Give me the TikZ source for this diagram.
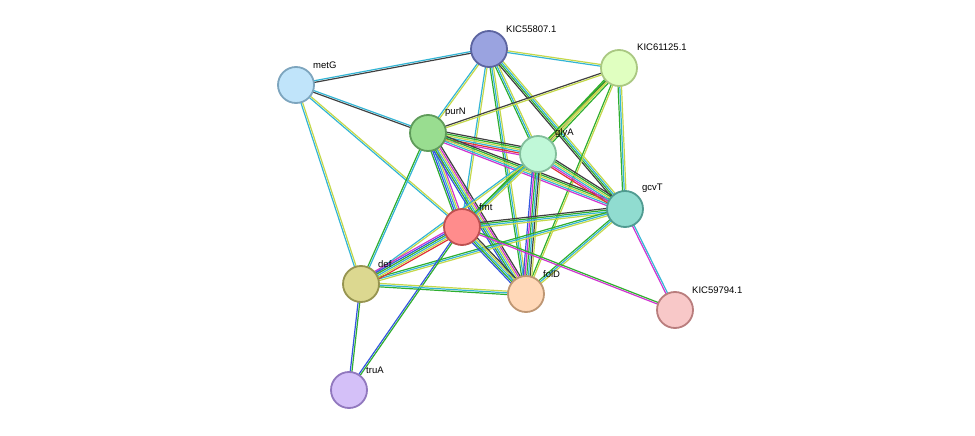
\documentclass[tikz,border=0pt]{standalone}
\usepackage{fontspec}
\setmainfont{Liberation Sans}
\usetikzlibrary{calc}
\pgfdeclarelayer{bg}
\pgfsetlayers{bg,main}
\definecolor{cK}{HTML}{404040}
\definecolor{cC}{HTML}{33B5D5}
\definecolor{cM}{HTML}{D033D0}
\definecolor{cY}{HTML}{C4D84A}
\definecolor{cG}{HTML}{2FAE2F}
\definecolor{cB}{HTML}{3355E0}
\definecolor{cR}{HTML}{E03333}
% one coloured line per evidence channel, side by side
\newcommand\lnk[3]{%
  \foreach \c [count=\i] in {#3} {\xdef\nn{\i}}
  \foreach \c [count=\i] in {#3} {
    \pgfmathsetmacro\off{(\i-(\nn+1)/2)*1.7}
    \draw[\c,line width=1.2pt] ($(#1)!\off pt!90:(#2)$) -- ($(#2)!\off pt!-90:(#1)$);
  }}
\begin{document}
\begin{tikzpicture}
    [x=1pt,y=-1pt,
    prot/.style={circle,draw,line width=1.8pt,minimum size=36pt,inner sep=0pt},
    lab/.style={font=\fontsize{9.5}{11}\selectfont,anchor=south west,inner sep=1pt}
    ]
    \useasboundingbox (0,0) rectangle (975,436);
    \node (k55) at (489,49) [prot,fill={rgb,255:red,154;green,163;blue,224},draw={rgb,255:red,92;green,100;blue,160}] {};
    \node (k61) at (619,68) [prot,fill={rgb,255:red,224;green,255;blue,192},draw={rgb,255:red,170;green,200;blue,130}] {};
    \node (metG) at (296,85) [prot,fill={rgb,255:red,192;green,228;blue,250},draw={rgb,255:red,125;green,165;blue,190}] {};
    \node (purN) at (428,133) [prot,fill={rgb,255:red,153;green,221;blue,144},draw={rgb,255:red,95;green,155;blue,90}] {};
    \node (glyA) at (538,154) [prot,fill={rgb,255:red,192;green,248;blue,216},draw={rgb,255:red,130;green,190;blue,155}] {};
    \node (gcvT) at (625,209) [prot,fill={rgb,255:red,144;green,220;blue,208},draw={rgb,255:red,80;green,155;blue,145}] {};
    \node (fmt) at (462,227) [prot,fill={rgb,255:red,255;green,140;blue,140},draw={rgb,255:red,190;green,80;blue,80}] {};
    \node (def) at (361,284) [prot,fill={rgb,255:red,220;green,216;blue,144},draw={rgb,255:red,150;green,148;blue,80}] {};
    \node (folD) at (526,294) [prot,fill={rgb,255:red,255;green,216;blue,184},draw={rgb,255:red,190;green,150;blue,115}] {};
    \node (k59) at (675,310) [prot,fill={rgb,255:red,248;green,200;blue,200},draw={rgb,255:red,185;green,125;blue,125}] {};
    \node (truA) at (349,390) [prot,fill={rgb,255:red,212;green,192;blue,248},draw={rgb,255:red,145;green,120;blue,190}] {};
    \node[lab] (lk55) at (505,34) {KIC55807.1};
    \node[lab] (lk61) at (636,52) {KIC61125.1};
    \node[lab] (lmetG) at (312,70) {metG};
    \node[lab] (lpurN) at (444,118) {purN};
    \node[lab] (lglyA) at (554,139) {glyA};
    \node[lab] (lgcvT) at (641,194) {gcvT};
    \node[lab] (lfmt) at (478,212) {fmt};
    \node[lab] (ldef) at (377,269) {def};
    \node[lab] (lfolD) at (542,279) {folD};
    \node[lab] (lk59) at (691,295) {KIC59794.1};
    \node[lab] (ltruA) at (365,375) {truA};
    \begin{pgfonlayer}{bg}
    \lnk{metG}{k55}{cK,cC}
    \lnk{metG}{purN}{cK,cC}
    \lnk{metG}{fmt}{cC,cY}
    \lnk{metG}{def}{cC,cY}
    \lnk{k55}{k61}{cC,cY}
    \lnk{k55}{purN}{cC,cY}
    \lnk{k55}{glyA}{cG,cC,cY}
    \lnk{k55}{gcvT}{cK,cG,cC,cY}
    \lnk{k55}{fmt}{cC,cY}
    \lnk{k55}{folD}{cG,cC,cY}
    \lnk{k61}{purN}{cK,cY}
    \lnk{k61}{glyA}{cG,cK,cY,cG}
    \lnk{k61}{gcvT}{cG,cC,cY}
    \lnk{k61}{fmt}{cG,cY}
    \lnk{k61}{folD}{cG,cY}
    \lnk{purN}{glyA}{cM,cR,cC,cY,cG,cK}
    \lnk{purN}{gcvT}{cM,cC,cY,cG,cK}
    \lnk{purN}{fmt}{cG,cB,cC,cY,cM}
    \lnk{purN}{folD}{cB,cG,cC,cY,cM,cK}
    \lnk{purN}{def}{cG,cC}
    \lnk{glyA}{gcvT}{cR,cM,cC,cY,cG,cK}
    \lnk{glyA}{fmt}{cG,cC,cY}
    \lnk{glyA}{folD}{cB,cM,cG,cC,cK,cY}
    \lnk{glyA}{def}{cC,cY}
    \lnk{gcvT}{fmt}{cK,cG,cC,cY}
    \lnk{gcvT}{folD}{cG,cC,cY}
    \lnk{gcvT}{def}{cG,cC,cY}
    \lnk{gcvT}{k59}{cM,cC}
    \lnk{fmt}{def}{cM,cB,cG,cC,cY,cR}
    \lnk{fmt}{folD}{cB,cG,cC,cY,cK}
    \lnk{fmt}{k59}{cM,cG}
    \lnk{fmt}{truA}{cB,cG}
    \lnk{def}{folD}{cG,cC,cY}
    \lnk{def}{truA}{cB,cG}
    \end{pgfonlayer}
  \end{tikzpicture}
\end{document}
